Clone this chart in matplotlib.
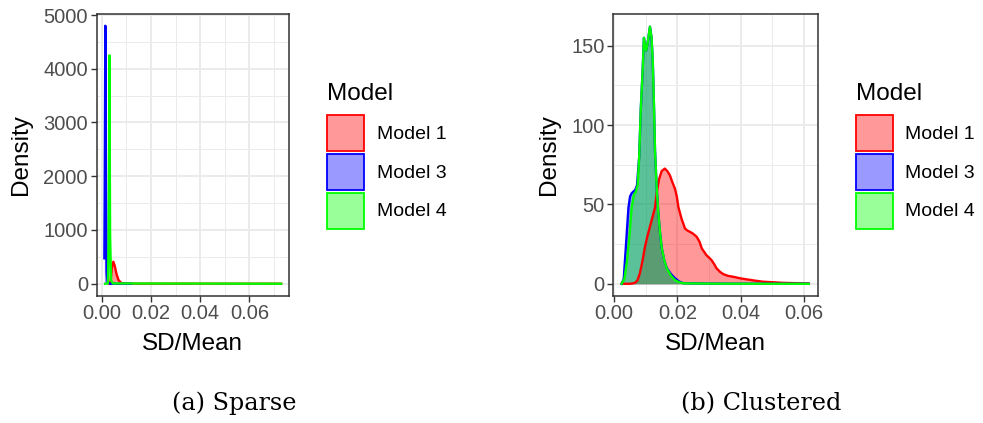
#!/usr/bin/env python3
"""Densidades de SD/Mean por modelo: cenário esparso (a) e agrupado (b)."""

import numpy as np
import matplotlib
matplotlib.use("Agg")
import matplotlib.pyplot as plt
from matplotlib.patches import Patch

plt.rcParams["font.family"] = ["Liberation Sans", "DejaVu Sans"]

# --- dados ---
models = ["Model 1", "Model 3", "Model 4"]
colors = ["#FF0000", "#0000FF", "#00FF00"]

# (a) Sparse
sparse_m1_x = [0.0030, 0.0036, 0.0041, 0.0047, 0.0053, 0.0060, 0.0068, 0.0081, 0.0100, 0.0729]
sparse_m1_y = [0, 40, 300, 410, 330, 180, 69, 8, 1, 0]
sparse_m3_x = [0.00106, 0.00118, 0.00146, 0.00170, 0.0020, 0.0024, 0.0035, 0.0120]
sparse_m3_y = [473, 1500, 4800, 2000, 200, 20, 0, 0]
sparse_m4_x = [0.00134, 0.0025, 0.0028, 0.0031, 0.0034, 0.0038, 0.0045, 0.0729]
sparse_m4_y = [0, 5, 800, 4250, 900, 60, 5, 0]

# (b) Clustered
clust_m1_x = [0.00234, 0.0050, 0.0065, 0.0073, 0.0081, 0.0089, 0.0097, 0.0105, 0.0113,
              0.0121, 0.0129, 0.0135, 0.0142, 0.0150, 0.0160, 0.0168, 0.0176, 0.0184,
              0.0192, 0.0198, 0.0203, 0.0213, 0.0224, 0.0232, 0.0240, 0.0250, 0.0261,
              0.0270, 0.0277, 0.0285, 0.0292, 0.0300, 0.0308, 0.0316, 0.0324, 0.0335,
              0.0345, 0.0360, 0.0377, 0.0400, 0.0419, 0.0445, 0.0472, 0.0500, 0.0535,
              0.0580, 0.0616]
clust_m1_y = [0, 0, 0.5, 2, 6.5, 14, 23, 30, 36,
              42, 48, 58, 66, 71, 72.6, 71, 68.4, 64,
              60, 55, 48.4, 41, 34.8, 33.5, 32.7, 31.5, 29.6,
              26.5, 22.3, 20, 18, 16.5, 14.9, 12.5, 9.7, 7.5,
              6.1, 5, 4.4, 3.4, 2.8, 2, 1.3, 1, 0.6,
              0.35, 0.2]
clust_m3_x = [0.00234, 0.0030, 0.0034, 0.0040, 0.0045, 0.0050, 0.0055, 0.0060, 0.0066,
              0.0072, 0.0079, 0.0084, 0.0090, 0.0094, 0.0098, 0.0101, 0.0106, 0.0113,
              0.0118, 0.0122, 0.0126, 0.0129, 0.0134, 0.0139, 0.0145, 0.0150, 0.0158,
              0.0166, 0.0180, 0.0192, 0.0205, 0.0218, 0.0300, 0.0450, 0.0616]
clust_m3_y = [0, 3, 15, 33, 48, 55, 57, 58, 59,
              62, 80, 110, 135, 155, 149, 147, 152, 162,
              155, 140, 110, 84, 62, 46, 32, 23, 15,
              10, 6, 3.5, 1.5, 0.4, 0.1, 0.02, 0]
clust_m4_x = [0.00234, 0.0032, 0.0040, 0.0048, 0.0055, 0.0062, 0.0068, 0.0074, 0.0079,
              0.0084, 0.0090, 0.0094, 0.0098, 0.0101, 0.0106, 0.0113, 0.0118, 0.0122,
              0.0126, 0.0129, 0.0134, 0.0139, 0.0145, 0.0150, 0.0158, 0.0166, 0.0180,
              0.0192, 0.0205, 0.0218, 0.0300, 0.0450, 0.0616]
clust_m4_y = [0, 3, 14, 30, 48, 56, 58, 62, 80,
              110, 135, 155, 149, 147, 152, 162, 155, 140,
              110, 84, 62, 46, 32, 23, 15, 9.7, 5,
              2.3, 1, 0.3, 0.1, 0.02, 0]

x_ticks = [0.00, 0.02, 0.04, 0.06]
x_ticklabels = ["0.00", "0.02", "0.04", "0.06"]
sparse_y_ticks = [0, 1000, 2000, 3000, 4000, 5000]
clust_y_ticks = [0, 50, 100, 150]

W, H = 983, 423
TICK_FS = 14.5
LEG_FS = 14.0
TITLE_FS = 17.5


def style_axes(ax, xlim, ylim, yticks, xminor, yminor):
    ax.set_xlim(*xlim)
    ax.set_ylim(*ylim)
    ax.set_xticks(x_ticks)
    ax.set_xticklabels(x_ticklabels)
    ax.set_yticks(yticks)
    ax.set_xticks(xminor, minor=True)
    ax.set_yticks(yminor, minor=True)
    ax.grid(True, which="major", color="#EBEBEB", linewidth=1.4)
    ax.grid(True, which="minor", color="#EBEBEB", linewidth=0.7)
    ax.set_axisbelow(True)
    for s in ax.spines.values():
        s.set_color("#333333")
        s.set_linewidth(1.1)
    ax.tick_params(which="major", length=4.3, width=1.0, color="#333333",
                   labelcolor="#4D4D4D", labelsize=TICK_FS, pad=2.0)
    ax.tick_params(which="minor", length=0)


def draw_density(ax, curves):
    for (x, y), c in zip(curves, colors):
        ax.fill_between(x, 0, y, color=c, alpha=0.4, linewidth=0)
        ax.plot(x, y, color=c, linewidth=1.7, solid_joinstyle="round")


def add_legend(ax, left_px):
    handles = [Patch(facecolor=matplotlib.colors.to_rgba(c, 0.4), edgecolor=c, linewidth=1.3)
               for c in colors]
    fs = LEG_FS * 100 / 72
    hh = (36.0 / fs - 0.245) / 0.65
    ax.legend(handles, models, loc="upper left", frameon=False,
              bbox_to_anchor=(left_px / W, 1 - 115.5 / H),
              bbox_transform=ax.figure.transFigure,
              fontsize=LEG_FS, borderpad=0, borderaxespad=0,
              handlelength=37.0 / fs, handleheight=hh,
              labelspacing=2.5 / fs, handletextpad=12.5 / fs)
    ax.figure.text(left_px / W, 1 - 100.0 / H, "Model", fontsize=TITLE_FS,
                   ha="left", va="baseline", color="black")


fig = plt.figure(figsize=(W / 100, H / 100), dpi=100)

# painel (a)
ax1 = fig.add_axes([96.7 / W, 1 - 295.7 / H, 192.3 / W, 281.7 / H])
draw_density(ax1, [(sparse_m1_x, sparse_m1_y), (sparse_m3_x, sparse_m3_y),
                   (sparse_m4_x, sparse_m4_y)])
style_axes(ax1, (-0.00205, 0.0761), (-223, 5019), sparse_y_ticks,
           [0.01, 0.03, 0.05, 0.07], [500, 1500, 2500, 3500, 4500])
add_legend(ax1, 327.3)

# painel (b)
ax2 = fig.add_axes([613.3 / W, 1 - 295.7 / H, 204.4 / W, 281.7 / H])
draw_density(ax2, [(clust_m1_x, clust_m1_y), (clust_m3_x, clust_m3_y),
                   (clust_m4_x, clust_m4_y)])
style_axes(ax2, (-0.0003, 0.0644), (-7.5, 170), clust_y_ticks,
           [0.01, 0.03, 0.05], [25, 75, 125])
add_legend(ax2, 855.7)

# rótulos dos eixos
for cx in [192.9, 715.5]:
    fig.text(cx / W, 1 - 350.0 / H, "SD/Mean", fontsize=TITLE_FS, ha="center", va="baseline")
for lx in [26.5, 554.5]:
    fig.text(lx / W, 0.5 * (2 - (14 + 295.7) / H), "Density", fontsize=TITLE_FS,
             rotation=90, rotation_mode="anchor", ha="center", va="baseline")

# legendas das subfiguras
fig.text(234.7 / W, 1 - 410.0 / H, "(a) Sparse", family="DejaVu Serif",
         fontsize=17.2, ha="center", va="baseline")
fig.text(761.3 / W, 1 - 410.0 / H, "(b) Clustered", family="DejaVu Serif",
         fontsize=17.2, ha="center", va="baseline")

fig.savefig("out.png", dpi=100)
